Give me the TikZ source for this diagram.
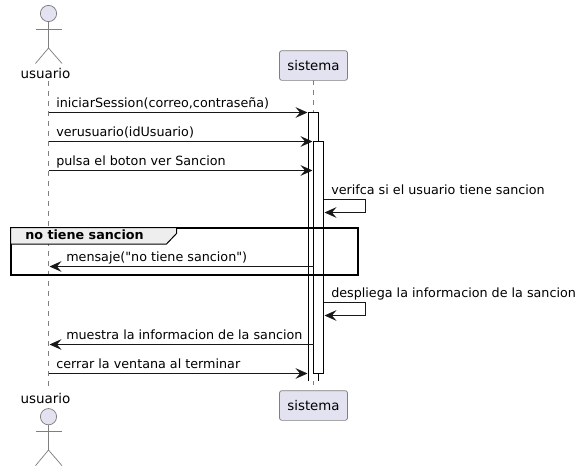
\documentclass[tikz,border=0pt]{standalone}
\usepackage{fontspec}
\setmainfont{DejaVu Sans}[Ligatures=TeXOff]
\usetikzlibrary{arrows.meta}
\definecolor{actorfill}{HTML}{E2E2F0}
\definecolor{actorline}{HTML}{7F7F7F}
\definecolor{groupfill}{HTML}{EEEEEE}
\definecolor{msgline}{HTML}{181818}
\tikzset{
  msg/.style={draw=msgline,line width=0.75pt,-{Stealth[length=9pt,width=8pt,inset=3.4pt]}},
  msgtext/.style={anchor=base west,inner sep=0pt,font=\fontsize{9.55}{11}\selectfont,text=black},
  life/.style={draw=actorline,line width=0.55pt,dash pattern=on 3.75pt off 3.75pt},
  partbox/.style={rectangle,rounded corners=1.8pt,draw=actorline,fill=actorfill,line width=0.55pt,minimum width=51pt,minimum height=22.3pt,inner sep=0pt,font=\fontsize{10}{12}\selectfont},
  actorlabel/.style={inner sep=0pt,font=\fontsize{10.1}{12}\selectfont},
  limb/.style={draw=actorline,line width=0.55pt},
  activ/.style={draw=black,fill=white,line width=0.75pt}
}
\begin{document}
\begin{tikzpicture}[x=0.75pt,y=-0.75pt]
 \useasboundingbox (0,0) rectangle (579,471);

 % lifelines
 \coordinate (ua) at (48.5,81);
 \coordinate (ub) at (48.5,387);
 \coordinate (sa) at (313.5,80);
 \coordinate (sb) at (313.5,390);
 \draw[life] (ua)--(ub);
 \draw[life] (sa)--(sb);

 % actors
 \node at (48.5,13.5) [circle,draw=actorline,fill=actorfill,line width=0.55pt,minimum size=12.2pt,inner sep=0pt] (head1) {};
 \coordinate (hip1) at (48.5,48);
 \coordinate (handl1) at (35.5,29);
 \coordinate (handr1) at (62,29);
 \coordinate (footl1) at (35.5,63.5);
 \coordinate (footr1) at (62,63.5);
 \draw[limb] (head1)--(hip1);
 \draw[limb] (handl1)--(handr1);
 \draw[limb] (footl1)--(hip1)--(footr1);
 \node at (45.5,73) [actorlabel] (user1) {usuario};

 \node at (48.5,416.7) [circle,draw=actorline,fill=actorfill,line width=0.55pt,minimum size=12.2pt,inner sep=0pt] (head2) {};
 \coordinate (hip2) at (48.5,450);
 \coordinate (handl2) at (35.5,431);
 \coordinate (handr2) at (62,431);
 \coordinate (footl2) at (35.5,465.7);
 \coordinate (footr2) at (62,465.7);
 \draw[limb] (head2)--(hip2);
 \draw[limb] (handl2)--(handr2);
 \draw[limb] (footl2)--(hip2)--(footr2);
 \node at (45.5,398) [actorlabel] (user2) {usuario};

 % participant
 \node at (313.5,65.5) [partbox] (sys1) {sistema};
 \node at (313.5,405.5) [partbox] (sys2) {sistema};

 % activations
 \fill[white] (308.5,112.5) rectangle (318.5,381);
 \draw[activ] (308.5,381)--(308.5,112.5)--(318.5,112.5)--(318.5,381);
 \draw[activ] (313.5,141.5) rectangle (323.5,373.5);

 % group
 \draw[draw=black,line width=1.5pt] (10.5,227.5) rectangle (357.5,274.5);
 \draw[fill=groupfill,draw=black,line width=0.75pt] (10.5,227.5)--(176.5,227.5)--(176.5,233.5)--(166.5,244)--(10.5,244)--cycle;
 \node at (25,236) [anchor=mid west,inner sep=0pt,font=\fontsize{9.55}{11}\selectfont\bfseries] (grplabel) {no tiene sancion};

 % messages
 \coordinate (m1a) at (48.5,112.5); \coordinate (m1b) at (307.5,112.5);
 \coordinate (m2a) at (48.5,141.5); \coordinate (m2b) at (312.5,141.5);
 \coordinate (m3a) at (48.5,170.5); \coordinate (m3b) at (312.5,170.5);
 \coordinate (m4a) at (313.5,266.5); \coordinate (m4b) at (49.5,266.5);
 \coordinate (m5a) at (313.5,344.5); \coordinate (m5b) at (49.5,344.5);
 \coordinate (m6a) at (48.5,373.5); \coordinate (m6b) at (307.5,373.5);
 \draw[msg] (m1a)--(m1b);
 \draw[msg] (m2a)--(m2b);
 \draw[msg] (m3a)--(m3b);
 \draw[msg] (m4a)--(m4b);
 \draw[msg] (m5a)--(m5b);
 \draw[msg] (m6a)--(m6b);
 \node at (56,107) [msgtext] (t1) {iniciarSession(correo,contraseña)};
 \node at (56,136) [msgtext] (t2) {verusuario(idUsuario)};
 \node at (56,165.5) [msgtext] (t3) {pulsa el boton ver Sancion};
 \node at (66,261.5) [msgtext] (t4) {mensaje("no tiene sancion")};
 \node at (66,339.5) [msgtext] (t5) {muestra la informacion de la sancion};
 \node at (56,368) [msgtext] (t6) {cerrar la ventana al terminar};

 % self messages
 \coordinate (s1a) at (323.5,199.5); \coordinate (s1b) at (365.5,199.5);
 \coordinate (s1c) at (365.5,212.5); \coordinate (s1d) at (324.5,212.5);
 \coordinate (s2a) at (323.5,302.5); \coordinate (s2b) at (365.5,302.5);
 \coordinate (s2c) at (365.5,315.5); \coordinate (s2d) at (324.5,315.5);
 \draw[msg] (s1a)--(s1b)--(s1c)--(s1d);
 \draw[msg] (s2a)--(s2b)--(s2c)--(s2d);
 \node at (331,194.5) [msgtext] (t7) {verifca si el usuario tiene sancion};
 \node at (331,297.5) [msgtext] (t8) {despliega la informacion de la sancion};
\end{tikzpicture}
\end{document}
